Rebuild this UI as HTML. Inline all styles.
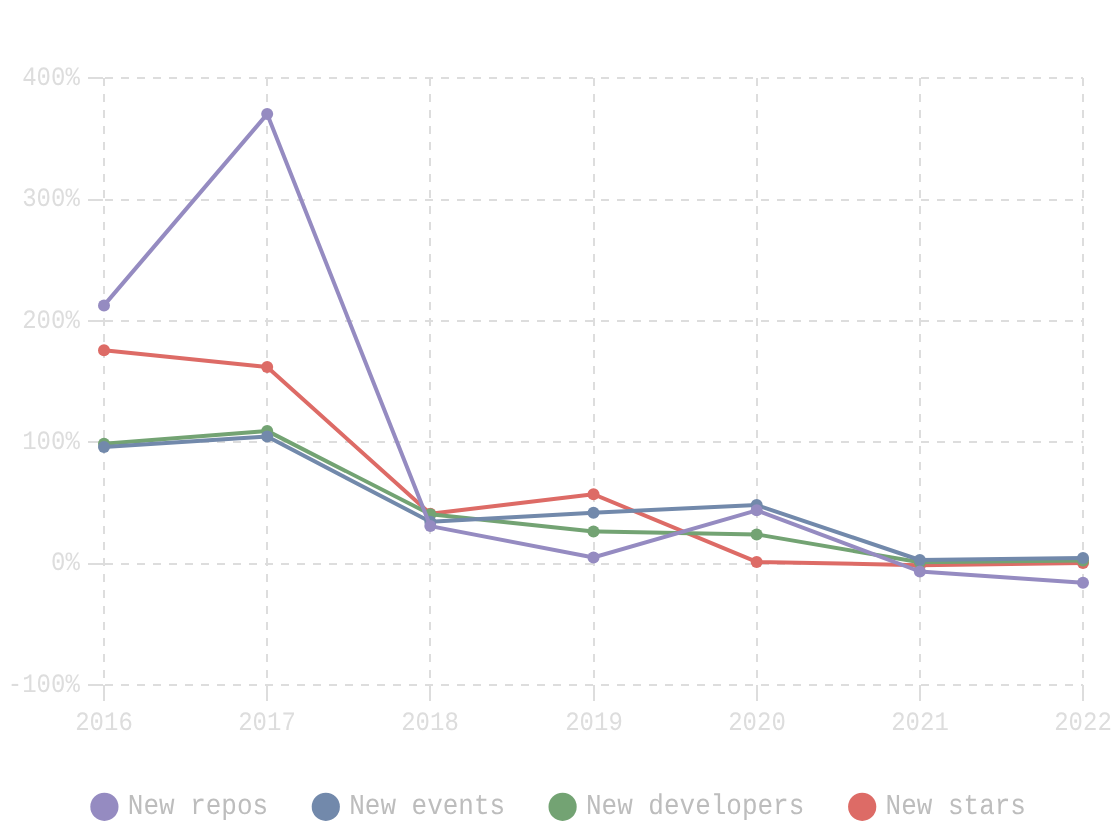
<!DOCTYPE html>
<html lang="en">
<head>
<meta charset="utf-8">
<title>Year-over-year growth</title>
<style>
html,body{margin:0;padding:0;background:#fff;}
body{width:1120px;height:840px;overflow:hidden;}
svg{display:block;}
.txt{opacity:0.999;}
text{font-family:"Liberation Mono", "DejaVu Sans Mono", monospace;text-rendering:geometricPrecision;}

.ax{font-size:26.5px;fill:#dddddd;}
.lg{font-size:28.7px;fill:#bdbdbd;}
</style>
</head>
<body>
<svg width="1120" height="840" viewBox="0 0 1120 840">

<g stroke="#dddddd" stroke-width="2" fill="none">
<line x1="88" y1="78.00" x2="103" y2="78.00"/>
<line x1="105" y1="78.00" x2="1083" y2="78.00" stroke-dasharray="8 8"/>
<line x1="88" y1="200.00" x2="103" y2="200.00"/>
<line x1="105" y1="200.00" x2="1083" y2="200.00" stroke-dasharray="8 8"/>
<line x1="88" y1="321.00" x2="103" y2="321.00"/>
<line x1="105" y1="321.00" x2="1083" y2="321.00" stroke-dasharray="8 8"/>
<line x1="88" y1="442.00" x2="103" y2="442.00"/>
<line x1="105" y1="442.00" x2="1083" y2="442.00" stroke-dasharray="8 8"/>
<line x1="88" y1="564.00" x2="103" y2="564.00"/>
<line x1="105" y1="564.00" x2="1083" y2="564.00" stroke-dasharray="8 8"/>
<line x1="88" y1="685.00" x2="103" y2="685.00"/>
<line x1="105" y1="685.00" x2="1083" y2="685.00" stroke-dasharray="8 8"/>
<line x1="104" y1="78" x2="104" y2="684" stroke-dasharray="8 8"/>
<line x1="104" y1="685" x2="104" y2="701"/>
<line x1="267" y1="78" x2="267" y2="684" stroke-dasharray="8 8"/>
<line x1="267" y1="685" x2="267" y2="701"/>
<line x1="430" y1="78" x2="430" y2="684" stroke-dasharray="8 8"/>
<line x1="430" y1="685" x2="430" y2="701"/>
<line x1="594" y1="78" x2="594" y2="684" stroke-dasharray="8 8"/>
<line x1="594" y1="685" x2="594" y2="701"/>
<line x1="757" y1="78" x2="757" y2="684" stroke-dasharray="8 8"/>
<line x1="757" y1="685" x2="757" y2="701"/>
<line x1="920" y1="78" x2="920" y2="684" stroke-dasharray="8 8"/>
<line x1="920" y1="685" x2="920" y2="701"/>
<line x1="1083" y1="78" x2="1083" y2="684" stroke-dasharray="8 8"/>
<line x1="1083" y1="685" x2="1083" y2="701"/>
</g>
<g class="txt ax">
<text transform="translate(79.80 85.00) scale(0.9055 1)" text-anchor="end">400%</text>
<text transform="translate(79.80 206.00) scale(0.9055 1)" text-anchor="end">300%</text>
<text transform="translate(79.80 328.00) scale(0.9055 1)" text-anchor="end">200%</text>
<text transform="translate(79.80 449.00) scale(0.9055 1)" text-anchor="end">100%</text>
<text transform="translate(79.80 570.00) scale(0.9055 1)" text-anchor="end">0%</text>
<text transform="translate(79.80 692.00) scale(0.9055 1)" text-anchor="end">-100%</text>
<text transform="translate(104.00 730.00) scale(0.9055 1)" text-anchor="middle">2016</text>
<text transform="translate(267.00 730.00) scale(0.9055 1)" text-anchor="middle">2017</text>
<text transform="translate(430.00 730.00) scale(0.9055 1)" text-anchor="middle">2018</text>
<text transform="translate(594.00 730.00) scale(0.9055 1)" text-anchor="middle">2019</text>
<text transform="translate(757.00 730.00) scale(0.9055 1)" text-anchor="middle">2020</text>
<text transform="translate(920.00 730.00) scale(0.9055 1)" text-anchor="middle">2021</text>
<text transform="translate(1083.00 730.00) scale(0.9055 1)" text-anchor="middle">2022</text>
</g>
<g fill="#dd6b66" stroke="none">
<polyline points="104.00,350.30 267.17,367.00 430.33,513.80 593.50,494.20 756.67,561.90 919.83,565.20 1083.00,562.90" fill="none" stroke="#dd6b66" stroke-width="4" stroke-linejoin="bevel"/>
<circle cx="104.00" cy="350.30" r="6"/>
<circle cx="267.17" cy="367.00" r="6"/>
<circle cx="430.33" cy="513.80" r="6"/>
<circle cx="593.50" cy="494.20" r="6"/>
<circle cx="756.67" cy="561.90" r="6"/>
<circle cx="919.83" cy="565.20" r="6"/>
<circle cx="1083.00" cy="562.90" r="6"/>
</g>
<g fill="#73a373" stroke="none">
<polyline points="104.00,443.80 267.17,430.90 430.33,514.20 593.50,531.50 756.67,534.40 919.83,562.30 1083.00,560.40" fill="none" stroke="#73a373" stroke-width="4" stroke-linejoin="bevel"/>
<circle cx="104.00" cy="443.80" r="6"/>
<circle cx="267.17" cy="430.90" r="6"/>
<circle cx="430.33" cy="514.20" r="6"/>
<circle cx="593.50" cy="531.50" r="6"/>
<circle cx="756.67" cy="534.40" r="6"/>
<circle cx="919.83" cy="562.30" r="6"/>
<circle cx="1083.00" cy="560.40" r="6"/>
</g>
<g fill="#7289ab" stroke="none">
<polyline points="104.00,447.00 267.17,436.50 430.33,521.80 593.50,512.70 756.67,505.10 919.83,560.00 1083.00,558.00" fill="none" stroke="#7289ab" stroke-width="4" stroke-linejoin="bevel"/>
<circle cx="104.00" cy="447.00" r="6"/>
<circle cx="267.17" cy="436.50" r="6"/>
<circle cx="430.33" cy="521.80" r="6"/>
<circle cx="593.50" cy="512.70" r="6"/>
<circle cx="756.67" cy="505.10" r="6"/>
<circle cx="919.83" cy="560.00" r="6"/>
<circle cx="1083.00" cy="558.00" r="6"/>
</g>
<g fill="#958bc1" stroke="none">
<polyline points="104.00,305.40 267.17,114.10 430.33,526.10 593.50,557.50 756.67,510.30 919.83,571.50 1083.00,582.70" fill="none" stroke="#958bc1" stroke-width="4" stroke-linejoin="bevel"/>
<circle cx="104.00" cy="305.40" r="6"/>
<circle cx="267.17" cy="114.10" r="6"/>
<circle cx="430.33" cy="526.10" r="6"/>
<circle cx="593.50" cy="557.50" r="6"/>
<circle cx="756.67" cy="510.30" r="6"/>
<circle cx="919.83" cy="571.50" r="6"/>
<circle cx="1083.00" cy="582.70" r="6"/>
</g>
<g>
<circle cx="104.4" cy="806.8" r="14.1" fill="#958bc1"/>
<circle cx="325.8" cy="806.8" r="14.1" fill="#7289ab"/>
<circle cx="562.6" cy="806.8" r="14.1" fill="#73a373"/>
<circle cx="862.2" cy="806.8" r="14.1" fill="#dd6b66"/>
</g>
<g class="txt lg">
<text transform="translate(127.80 814.00) scale(0.9058 1)">New repos</text>
<text transform="translate(349.20 814.00) scale(0.9058 1)">New events</text>
<text transform="translate(586.00 814.00) scale(0.9058 1)">New developers</text>
<text transform="translate(885.60 814.00) scale(0.9058 1)">New stars</text>
</g>
</svg>
</body>
</html>
